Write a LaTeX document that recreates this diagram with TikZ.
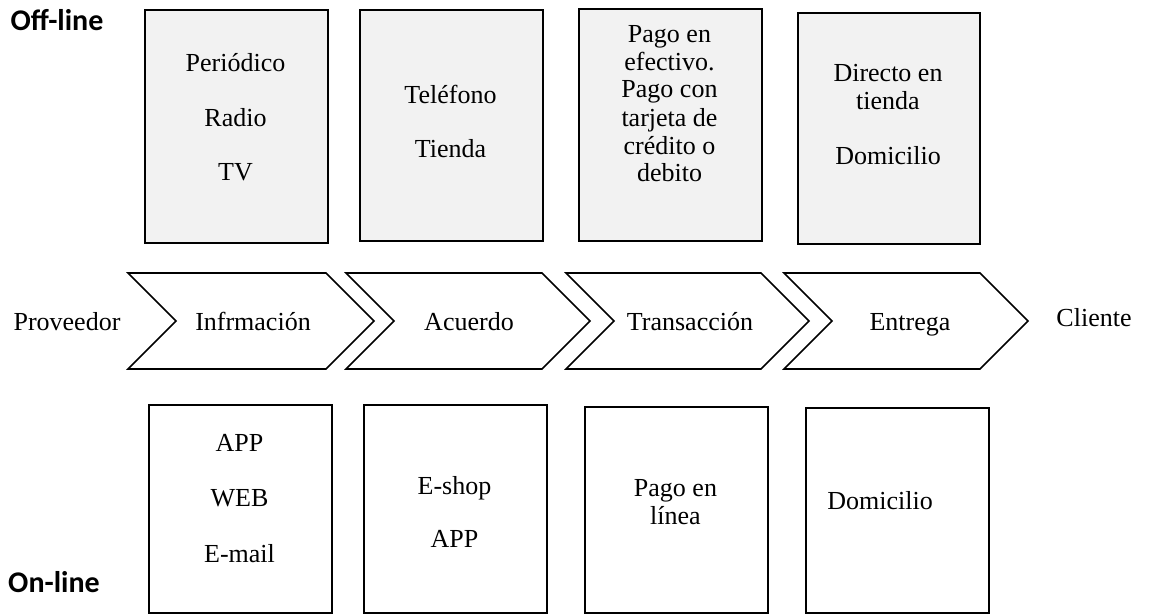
\documentclass[tikz,border=0pt]{standalone}
\usepackage{fontspec}
\setmainfont{Liberation Serif}
\newfontfamily\tagfont{Carlito}
\definecolor{boxgray}{HTML}{F2F2F2}
\begin{document}
\begin{tikzpicture}[x=1pt,y=-1pt,
  txt/.style={font=\fontsize{26}{28}\selectfont, inner sep=0pt, anchor=base},
  tag/.style={font=\tagfont\bfseries\fontsize{30}{32}\selectfont, inner sep=0pt, anchor=base},
  offbox/.style={draw=black, line width=1.6pt, fill=boxgray, anchor=north west, inner sep=0pt},
  onbox/.style={draw=black, line width=1.6pt, fill=white, anchor=north west, inner sep=0pt},
  chev/.style={draw=black, line width=1.6pt, line join=miter, fill=white}]
  \useasboundingbox (0,0) rectangle (1156,613);

  % row labels
  \node[tag] (offline) at (57,30) {Off-line};
  \node[tag] (online) at (54,592) {On-line};

  % off-line boxes
  \node[offbox, minimum width=183pt, minimum height=233pt] (o1) at (144,9) {};
  \node[offbox, minimum width=183pt, minimum height=231pt] (o2) at (359,9) {};
  \node[offbox, minimum width=183pt, minimum height=232pt] (o3) at (578,8) {};
  \node[offbox, minimum width=182pt, minimum height=231pt] (o4) at (797,12) {};

  \node[txt] (o1a) at (235.5,71) {Periódico};
  \node[txt] (o1b) at (235.5,126) {Radio};
  \node[txt] (o1c) at (235.5,180) {TV};

  \node[txt] (o2a) at (450.5,103) {Teléfono};
  \node[txt] (o2b) at (450.5,157) {Tienda};

  \node[txt] (o3a) at (669.5,42) {Pago en};
  \node[txt] (o3b) at (669.5,70) {efectivo.};
  \node[txt] (o3c) at (669.5,97) {Pago con};
  \node[txt] (o3d) at (669.5,126) {tarjeta de};
  \node[txt] (o3e) at (669.5,154) {crédito o};
  \node[txt] (o3f) at (669.5,181) {debito};

  \node[txt] (o4a) at (888,81) {Directo en};
  \node[txt] (o4b) at (888,109) {tienda};
  \node[txt] (o4c) at (888,164) {Domicilio};

  % process chevrons
  \foreach \name/\L/\W in {c1/128/198, c2/346/196, c3/566/195, c4/784/196} {
    \draw[chev] (\L,273) -- ++(\W,0) -- ++(48,48) -- ++(-48,48)
      -- (\L,369) -- ++(48,-48) -- cycle;
  }

  \node[txt] (prov) at (67,330) {Proveedor};
  \node[txt] (info) at (253,330) {Infrmación};
  \node[txt] (acue) at (469,330) {Acuerdo};
  \node[txt] (tran) at (690,330) {Transacción};
  \node[txt] (entr) at (910,330) {Entrega};
  \node[txt] (clie) at (1094,326) {Cliente};

  % on-line boxes
  \node[onbox, minimum width=183pt, minimum height=208pt] (n1) at (148,404) {};
  \node[onbox, minimum width=183pt, minimum height=208pt] (n2) at (363,404) {};
  \node[onbox, minimum width=183pt, minimum height=206pt] (n3) at (584,406) {};
  \node[onbox, minimum width=183pt, minimum height=205pt] (n4) at (805,407) {};

  \node[txt] (n1a) at (239.5,451) {APP};
  \node[txt] (n1b) at (239.5,506) {WEB};
  \node[txt] (n1c) at (239.5,562) {E-mail};

  \node[txt] (n2a) at (454.5,494) {E-shop};
  \node[txt] (n2b) at (454.5,547) {APP};

  \node[txt] (n3a) at (675.5,496) {Pago en};
  \node[txt] (n3b) at (675.5,524) {línea};

  \node[txt] (n4a) at (880,509) {Domicilio};
\end{tikzpicture}
\end{document}
